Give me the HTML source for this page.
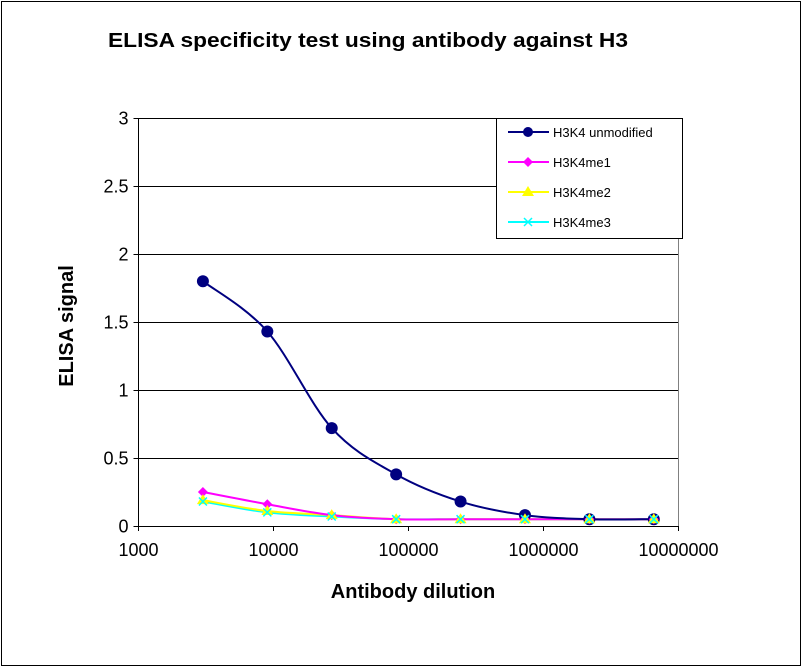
<!DOCTYPE html>
<html><head><meta charset="utf-8"><style>
body{margin:0;background:#fff;}
svg{display:block;font-family:"Liberation Sans",Arial,sans-serif;}
</style></head><body>
<svg id="s" width="802" height="667" viewBox="0 0 802 667">
<rect x="1.5" y="1.5" width="799" height="664" fill="#fff" stroke="#000" stroke-width="1"/>
<text x="368" y="47" font-size="20.5" font-weight="bold" text-anchor="middle" textLength="520" lengthAdjust="spacingAndGlyphs">ELISA  specificity test using antibody against H3</text>
<g id="grid"></g>
<text x="413" y="598" font-size="20" font-weight="bold" text-anchor="middle">Antibody dilution</text>
<text transform="translate(73,326) rotate(-90)" font-size="20" font-weight="bold" text-anchor="middle">ELISA signal</text>
<g id="series"></g>
<rect x="496.5" y="118.5" width="186" height="120" fill="#fff" stroke="#000"/>
<g font-size="13">
<line x1="508" y1="132" x2="549" y2="132" stroke="#000080" stroke-width="2"/><circle cx="528" cy="132" r="5" fill="#000080"/>
<text x="553" y="137">H3K4 unmodified</text>
<line x1="508" y1="162" x2="549" y2="162" stroke="#ff00ff" stroke-width="2"/><path d="M528 157 L533 162 L528 167 L523 162Z" fill="#ff00ff"/>
<text x="553" y="167">H3K4me1</text>
<line x1="508" y1="192" x2="549" y2="192" stroke="#ffff00" stroke-width="2"/><path d="M528 186 L534 196 L522 196Z" fill="#ffff00"/>
<text x="553" y="197">H3K4me2</text>
<line x1="508" y1="222" x2="549" y2="222" stroke="#00ffff" stroke-width="2"/><path d="M524 218 L532 226 M532 218 L524 226" stroke="#00ffff" stroke-width="1.5"/>
<text x="553" y="227">H3K4me3</text>
</g>
</svg>
<script>
var NS="http://www.w3.org/2000/svg";
function el(p,t,a,txt){var e=document.createElementNS(NS,t);for(var k in a)e.setAttribute(k,a[k]);if(txt!=null)e.textContent=txt;p.appendChild(e);return e;}
var X0=138.5,X1=678.5,Y0=526,Y3=118;
function xs(v){return X0+(Math.log10(v)-3)/4*(X1-X0);}
function ys(v){return Y0-v/3*(Y0-Y3);}
var g=document.getElementById('grid');
for(var i=1;i<=6;i++){var y=Math.round(ys(i*0.5))+0.5;el(g,'line',{x1:X0,x2:X1,y1:y,y2:y,stroke:'#000','stroke-width':1});}
el(g,'line',{x1:X0,x2:X0,y1:Y3,y2:Y0,stroke:'#000'});
el(g,'line',{x1:X0,x2:X1,y1:Y0+0.5,y2:Y0+0.5,stroke:'#000'});
el(g,'line',{x1:X1,x2:X1,y1:Y3,y2:Y0,stroke:'#808080'});
var yl=['0','0.5','1','1.5','2','2.5','3'];
for(var i=0;i<=6;i++){var y=Math.round(ys(i*0.5))+0.5;el(g,'line',{x1:X0-5,x2:X0,y1:y,y2:y,stroke:'#000'});el(g,'text',{x:X0-10,y:y+6,'font-size':18,'text-anchor':'end'},yl[i]);}
var xl=['1000','10000','100000','1000000','10000000'];
for(var i=0;i<5;i++){var x=X0+i*(X1-X0)/4;el(g,'line',{x1:x,x2:x,y1:Y0,y2:Y0+5,stroke:'#000'});el(g,'text',{x:x,y:556,'font-size':18,'text-anchor':'middle'},xl[i]);}
var xv=[3000,9000,27000,81000,243000,729000,2187000,6561000];
var S=[
{c:'#00ffff',m:'x',d:[0.18,0.10,0.07,0.05,0.05,0.05,0.05,0.05]},
{c:'#ffff00',m:'t',d:[0.19,0.11,0.08,0.05,0.05,0.05,0.05,0.05]},
{c:'#ff00ff',m:'d',d:[0.25,0.16,0.08,0.05,0.05,0.05,0.05,0.05]},
{c:'#000080',m:'c',d:[1.80,1.43,0.72,0.38,0.18,0.08,0.05,0.05]}
];
var sg=document.getElementById('series');
S.forEach(function(s){
 var p=xv.map(function(v,i){return [xs(v),ys(s.d[i])];});
 var d='M'+p[0][0]+' '+p[0][1];
 for(var i=0;i<p.length-1;i++){
  var a=p[i>0?i-1:0],b=p[i],c=p[i+1],e=p[i+2<p.length?i+2:i+1];
  var t=1/6;
  d+=' C'+(b[0]+(c[0]-a[0])*t)+' '+(b[1]+(c[1]-a[1])*t)+' '+(c[0]-(e[0]-b[0])*t)+' '+(c[1]-(e[1]-b[1])*t)+' '+c[0]+' '+c[1];
 }
 el(sg,'path',{d:d,fill:'none',stroke:s.c,'stroke-width':2});
});
S.slice().reverse().forEach(function(s){
 xv.forEach(function(v,i){var x=xs(v),y=ys(s.d[i]);
  if(s.m=='c')el(sg,'circle',{cx:x,cy:y,r:6,fill:s.c});
  else if(s.m=='d')el(sg,'path',{d:'M'+x+' '+(y-5)+' L'+(x+5)+' '+y+' L'+x+' '+(y+5)+' L'+(x-5)+' '+y+'Z',fill:s.c});
  else if(s.m=='t')el(sg,'path',{d:'M'+x+' '+(y-6)+' L'+(x+6)+' '+(y+4)+' L'+(x-6)+' '+(y+4)+'Z',fill:s.c});
  else el(sg,'path',{d:'M'+(x-4)+' '+(y-4)+' L'+(x+4)+' '+(y+4)+' M'+(x+4)+' '+(y-4)+' L'+(x-4)+' '+(y+4),stroke:s.c,'stroke-width':1.5});
 });
});
</script>
</body></html>
